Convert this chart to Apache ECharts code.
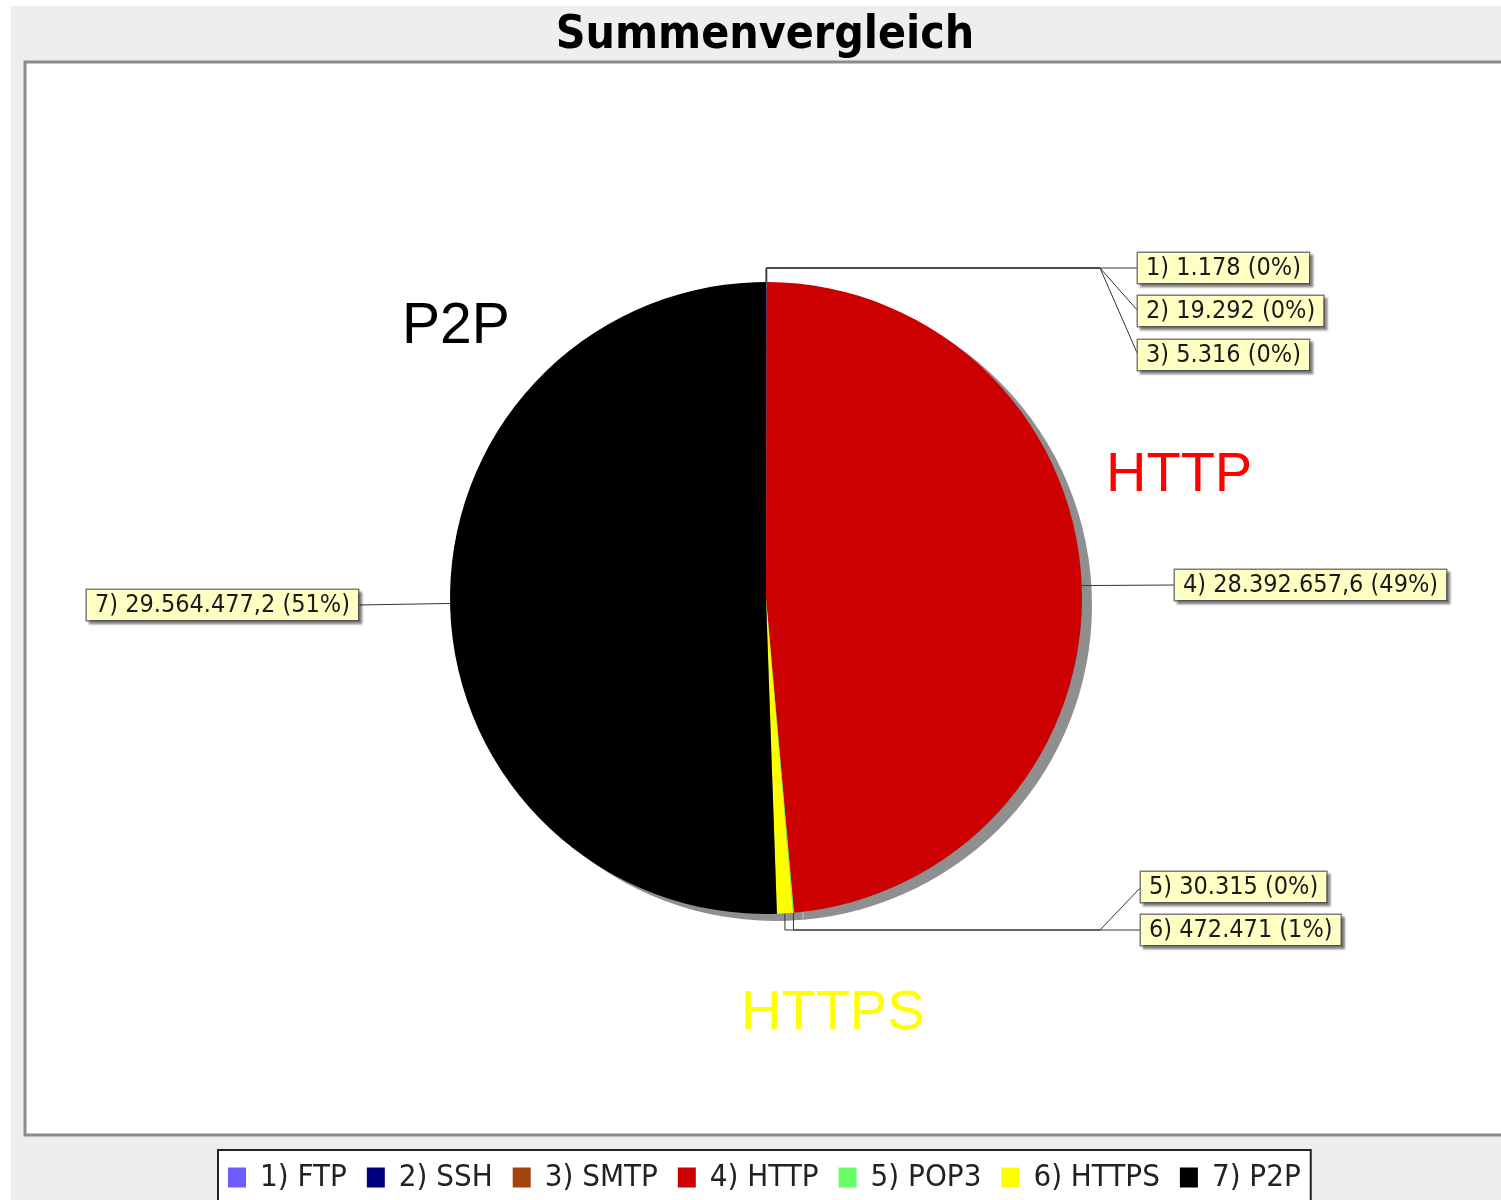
<!DOCTYPE html>
<html>
<head>
<meta charset="utf-8">
<title>Summenvergleich</title>
<script src="https://cdn.jsdelivr.net/npm/echarts@6/dist/echarts.min.js"></script>
<style>
  html, body { margin: 0; padding: 0; background: #ffffff; }
  #chart { width: 1501px; height: 1200px; }
</style>
</head>
<body>
<div id="chart"></div>
<script>
// Traffic totals per protocol
const protocols = ['FTP', 'SSH', 'SMTP', 'HTTP', 'POP3', 'HTTPS', 'P2P'];
const traffic = [1178, 19292, 5316, 28392657.6, 30315, 472471, 29564477.2];
const sliceColors = ['#6e5cff', '#00007f', '#a3420d', '#cc0000', '#66ff66', '#ffff00', '#000000'];

// Large call-out words placed around the pie
const calloutTexts = ['P2P', 'HTTP', 'HTTPS'];
const calloutColors = ['#000000', '#ff0000', '#ffff00'];

const chartTitle = 'Summenvergleich';

const total = traffic.reduce((a, b) => a + b, 0);

// German number formatting: 28392657.6 -> "28.392.657,6"
function formatDe(v) {
  const neg = v < 0;
  v = Math.abs(v);
  const rounded = Math.round(v * 10) / 10;
  const intPart = Math.floor(rounded);
  const frac = Math.round((rounded - intPart) * 10);
  const grouped = String(intPart).replace(/\B(?=(\d{3})+(?!\d))/g, '.');
  return (neg ? '-' : '') + grouped + (frac ? ',' + frac : '');
}

const condensed = '"DejaVu Sans Condensed", "Liberation Sans Narrow", "DejaVu Sans", sans-serif';

// Label placement: anchor of each label box and optional elbow (hub) for grouped leaders
const CX = 766, CY = 598, R = 316;
const labelSpots = [
  { x: 1138, y: 268, align: 'left', hub: [1100, 268] },
  { x: 1138, y: 311, align: 'left', hub: [1100, 268] },
  { x: 1138, y: 355, align: 'left', hub: [1100, 268] },
  { x: 1175, y: 585, align: 'left', inset: 30 },
  { x: 1141, y: 887, align: 'left', hub: [1100, 930] },
  { x: 1141, y: 930, align: 'left', hub: [1100, 930] },
  { x: 358,  y: 605, align: 'right' }
];

const chart = echarts.init(document.getElementById('chart'), null, { renderer: 'canvas' });

const option = {
  animation: false,
  backgroundColor: '#ffffff',
  graphic: [
    { type: 'rect', z: -10, silent: true,
      shape: { x: 11, y: 6, width: 1490, height: 1194 },
      style: { fill: '#eeeeee' } },
    { type: 'rect', z: -9, silent: true,
      shape: { x: 25, y: 62, width: 1478, height: 1073 },
      style: { fill: '#ffffff', stroke: '#8c8c8c', lineWidth: 3 } },
    { type: 'text', z: 5, silent: true, x: 765, y: 36,
      style: { text: chartTitle, fill: '#000', align: 'center', verticalAlign: 'middle',
               font: 'bold 46px ' + condensed } },
    { type: 'text', z: 5, silent: true, x: 402, y: 327,
      style: { text: calloutTexts[0], fill: calloutColors[0], align: 'left', verticalAlign: 'middle',
               font: '57px "Liberation Sans", Arial, sans-serif' } },
    { type: 'text', z: 5, silent: true, x: 1106, y: 476,
      style: { text: calloutTexts[1], fill: calloutColors[1], align: 'left', verticalAlign: 'middle',
               font: '56px "Liberation Sans", Arial, sans-serif' } },
    { type: 'text', z: 5, silent: true, x: 741, y: 1014,
      style: { text: calloutTexts[2], fill: calloutColors[2], align: 'left', verticalAlign: 'middle',
               font: '56px "Liberation Sans", Arial, sans-serif' } }
  ],
  legend: {
    left: 218,
    top: 1150,
    orient: 'horizontal',
    icon: 'rect',
    itemWidth: 18,
    itemHeight: 20,
    itemGap: 20,
    padding: [12, 10, 30, 10],
    backgroundColor: '#ffffff',
    borderColor: '#222222',
    borderWidth: 2,
    data: protocols,
    formatter: name => (protocols.indexOf(name) + 1) + ') ' + name,
    textStyle: { fontSize: 31, color: '#222', fontFamily: condensed, padding: [0, 0, 0, 9] }
  },
  series: [
    {
      type: 'pie',
      z: 3,
      center: [CX, CY],
      radius: R,
      startAngle: 90,
      clockwise: true,
      avoidLabelOverlap: false,
      minShowLabelAngle: 0,
      data: protocols.map((name, i) => ({
        name, value: traffic[i], itemStyle: { color: sliceColors[i] }
      })),
      itemStyle: { borderWidth: 0 },
      label: {
        show: true,
        position: 'outside',
        formatter: p => (p.dataIndex + 1) + ') ' + formatDe(p.value) + ' (' + Math.round(p.value / total * 100) + '%)',
        fontSize: 25,
        fontFamily: condensed,
        color: '#1a1a1a',
        backgroundColor: '#ffffc4',
        borderColor: '#7d7d7d',
        borderWidth: 1.5,
        padding: [3, 8, 2, 8],
        shadowColor: 'rgba(0,0,0,0.35)',
        shadowBlur: 2,
        shadowOffsetX: 3,
        shadowOffsetY: 3
      },
      labelLine: {
        show: true,
        length: 10,
        length2: 10,
        lineStyle: { color: '#333', width: 1 }
      },
      labelLayout: function (params) {
        const spot = labelSpots[params.dataIndex];
        const pts = params.labelLinePoints;
        let start = pts ? pts[0].slice() : [CX, CY - R];
        if (spot.inset) {
          const dx = start[0] - CX, dy = start[1] - CY;
          const len = Math.sqrt(dx * dx + dy * dy) || 1;
          start = [start[0] - dx / len * spot.inset, start[1] - dy / len * spot.inset];
        }
        const edgeX = spot.x;
        let line;
        if (spot.hub) {
          line = [start, [start[0], spot.hub[1]], spot.hub, [edgeX, spot.y]];
        } else {
          line = [start, [edgeX, spot.y]];
        }
        return {
          x: spot.x,
          y: spot.y,
          align: spot.align,
          verticalAlign: 'middle',
          hideOverlap: false,
          moveOverlap: null,
          labelLinePoints: line
        };
      }
    },
    {
      // drop shadow behind the pie
      type: 'pie',
      z: 1,
      silent: true,
      center: [CX + 10, CY + 7],
      radius: R,
      startAngle: 90,
      data: traffic.map(v => ({ value: v })),
      itemStyle: { color: '#8f8f8f', borderWidth: 0 },
      label: { show: false },
      labelLine: { show: false },
      emphasis: { disabled: true }
    }
  ]
};

chart.setOption(option);
</script>
</body>
</html>
